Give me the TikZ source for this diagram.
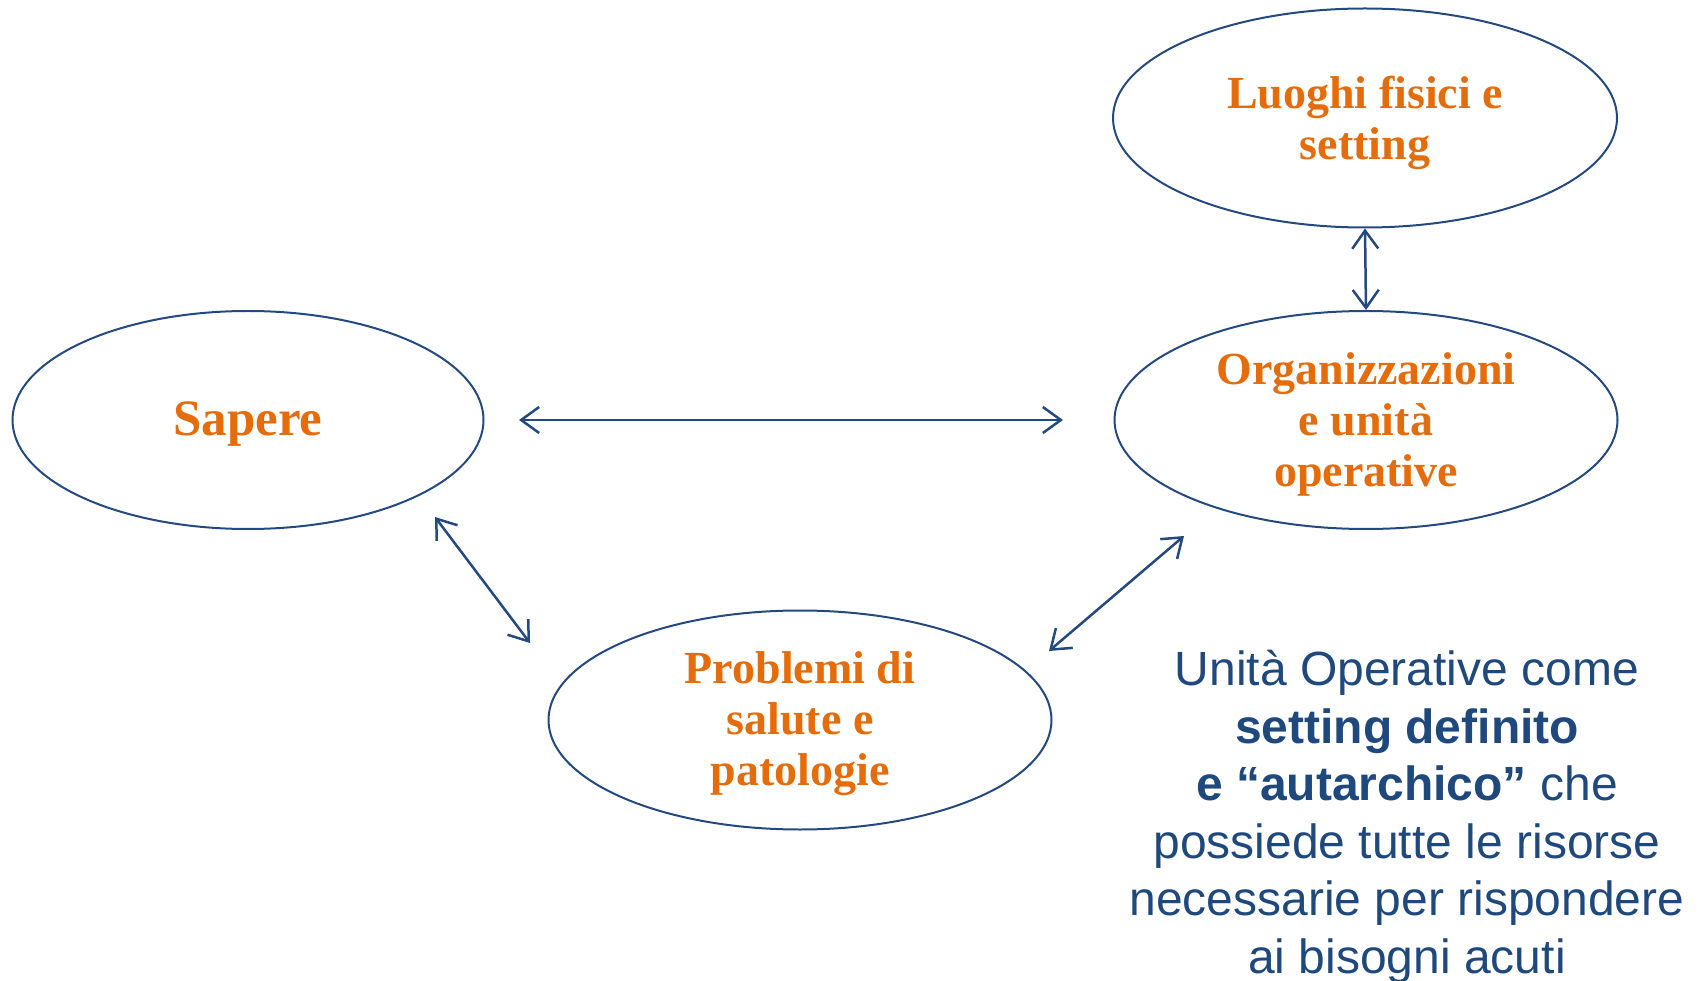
\documentclass[tikz,border=0pt]{standalone}
\usepackage{fontspec}
\setmainfont{Liberation Serif}
\newfontfamily\arialf{Liberation Sans}
\usetikzlibrary{shapes.geometric,arrows.meta,calc}
\definecolor{edgeblue}{HTML}{24497F}
\definecolor{textblue}{HTML}{1F497D}
\definecolor{orng}{HTML}{E46C0A}
\tikzset{
  bubble/.style={ellipse, draw=edgeblue, line width=2pt, inner sep=0pt},
  lbl/.style={text=orng, font=\fontsize{46}{51}\selectfont\bfseries, align=center, inner sep=0pt},
  link/.style={draw=edgeblue, line width=2.5pt,
    {Straight Barb[length=18pt,width=26pt]}-{Straight Barb[length=18pt,width=26pt]}}
}
\begin{document}
\begin{tikzpicture}[x=1pt,y=-1pt]
\useasboundingbox (0,0) rectangle (1701,981);
\node[bubble, minimum width=504pt, minimum height=219pt] (luo) at (1365,118) {};
\node[bubble, minimum width=503pt, minimum height=218pt] (org) at (1366,420) {};
\node[bubble, minimum width=471pt, minimum height=218pt] (sap) at (248,420) {};
\node[bubble, minimum width=503pt, minimum height=219pt] (pro) at (800,720) {};
\node[lbl] (luot) at ($(luo.center)+(0,5)$) {Luoghi fisici e\\setting};
\node[lbl] (orgt) at ($(org.center)+(0,4)$) {Organizzazioni\\e unità\\operative};
\node[lbl, font=\fontsize{51}{56}\selectfont\bfseries] (sapt) at ($(sap.center)+(0,4)$) {Sapere};
\node[lbl] (prot) at ($(pro.center)+(0,4)$) {Problemi di\\salute e\\patologie};
\coordinate (h1) at ($(sap.center)+(271,0)$);
\coordinate (h2) at ($(org.center)+(-303,0)$);
\coordinate (s1) at ($(sap.center)+(187,97)$);
\coordinate (s2) at ($(pro.center)+(-270,-77)$);
\coordinate (o1) at ($(org.center)+(-182,116)$);
\coordinate (o2) at ($(pro.center)+(249,-69)$);
\draw[link] (h1) -- (h2);
\draw[link] (luo.south) -- (org.north);
\draw[link] (s1) -- (s2);
\draw[link] (o1) -- (o2);
\node[anchor=base, align=center, text=textblue, font=\arialf\fontsize{48}{57.5}\selectfont] (note) at (1407,973)
  {Unità Operative come\\\textbf{setting definito}\\\textbf{e “autarchico”} che\\possiede tutte le risorse\\necessarie per rispondere\\ai bisogni acuti};
\end{tikzpicture}
\end{document}
